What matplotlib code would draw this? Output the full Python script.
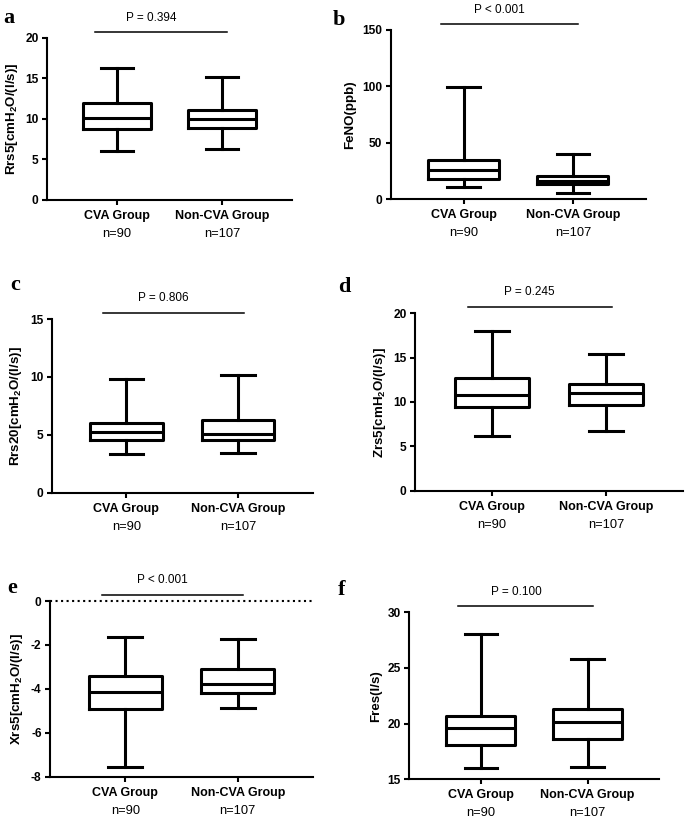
import matplotlib
matplotlib.use("Agg")
import matplotlib.pyplot as plt

# -----------------------------
# Données
# -----------------------------
groups = ["CVA Group", "Non-CVA Group"]
n_labels = ["n=90", "n=107"]

# [min, q1, median, q3, max] pour CVA puis Non-CVA
rrs5 = [[6.0, 8.8, 10.1, 11.9, 16.3], [6.3, 8.9, 9.95, 11.1, 15.1]]
feno = [[10.4, 18.0, 25.5, 35.0, 99.0], [5.3, 13.0, 16.3, 20.4, 40.2]]
rrs20 = [[3.37, 4.52, 5.21, 6.05, 9.79], [3.43, 4.52, 5.10, 6.25, 10.13]]
zrs5 = [[6.2, 9.47, 10.83, 12.67, 17.97], [6.77, 9.62, 11.02, 12.0, 15.38]]
xrs5 = [[-7.54, -4.93, -4.16, -3.41, -1.65], [-4.89, -4.20, -3.78, -3.10, -1.71]]
fres = [[15.99, 18.08, 19.58, 20.72, 28.02], [16.11, 18.65, 20.15, 21.32, 25.81]]

panel_letters = ["a", "b", "c", "d", "e", "f"]
ylabels = [
    r"Rrs5[cmH$_\mathbf{2}$O/(l/s)]",
    "FeNO(ppb)",
    r"Rrs20[cmH$_\mathbf{2}$O/(l/s)]",
    r"Zrs5[cmH$_\mathbf{2}$O/(l/s)]",
    r"Xrs5[cmH$_\mathbf{2}$O/(l/s)]",
    "Fres(l/s)",
]
p_texts = ["P = 0.394", "P < 0.001", "P = 0.806", "P = 0.245", "P < 0.001", "P = 0.100"]
ylims = [(0, 20), (0, 150), (0, 15), (0, 20), (-8, 0), (15, 30)]
yticks = [
    [0, 5, 10, 15, 20],
    [0, 50, 100, 150],
    [0, 5, 10, 15],
    [0, 5, 10, 15, 20],
    [-8, -6, -4, -2, 0],
    [15, 20, 25, 30],
]
all_data = [rrs5, feno, rrs20, zrs5, xrs5, fres]

# -----------------------------
# Mise en page (pixels)
# -----------------------------
W, H = 685, 825
axes_px = [  # gauche, droite, haut, bas
    (47, 292, 37.7, 200),
    (390.7, 646, 30, 199),
    (51.7, 312.7, 319, 492.7),
    (415, 683, 313.3, 490.7),
    (50, 313, 601, 776.7),
    (409.3, 659, 612.3, 779.3),
]
letter_px = [(3, 23), (333, 25), (10, 290), (338, 292), (7, 593), (338, 595)]

plt.rcParams["font.family"] = ["Liberation Sans", "DejaVu Sans"]
plt.rcParams["mathtext.fontset"] = "custom"
plt.rcParams["mathtext.bf"] = "Liberation Sans:bold"
plt.rcParams["mathtext.rm"] = "Liberation Sans:bold"
plt.rcParams["axes.unicode_minus"] = False

fig = plt.figure(figsize=(W / 100, H / 100), dpi=100)

BOX_LW = 2.2
positions = [1, 2]

for i, data in enumerate(all_data):
    l, r, t, b = axes_px[i]
    ax = fig.add_axes([l / W, 1 - b / H, (r - l) / W, (b - t) / H])

    stats = []
    for d in data:
        stats.append({
            "whislo": d[0], "q1": d[1], "med": d[2], "q3": d[3], "whishi": d[4],
            "fliers": [],
        })
    ax.bxp(
        stats, positions=positions, widths=0.65, showfliers=False,
        boxprops=dict(color="black", linewidth=BOX_LW),
        medianprops=dict(color="black", linewidth=BOX_LW),
        whiskerprops=dict(color="black", linewidth=BOX_LW),
        capprops=dict(color="black", linewidth=BOX_LW),
        capwidths=0.3,
    )

    ax.set_xlim(0.33, 2.67)
    ax.set_ylim(*ylims[i])
    ax.set_yticks(yticks[i])
    ax.set_xticks(positions)
    ax.set_xticklabels([])

    for s in ["top", "right"]:
        ax.spines[s].set_visible(False)
    for s in ["left", "bottom"]:
        ax.spines[s].set_linewidth(1.5)
    ax.tick_params(axis="both", length=3.6, width=1.5, labelsize=8.6, pad=2.5)
    for lab in ax.get_yticklabels():
        lab.set_fontweight("bold")

    ax.set_ylabel(ylabels[i], fontsize=9.6, fontweight="bold", labelpad=4)

    # étiquettes des groupes
    for pos, g, n in zip(positions, groups, n_labels):
        ax.annotate(g, xy=(pos, 0), xycoords=("data", "axes fraction"),
                    xytext=(0, -11.5), textcoords="offset points",
                    ha="center", va="center", fontsize=9, fontweight="bold")
        ax.annotate(n, xy=(pos, 0), xycoords=("data", "axes fraction"),
                    xytext=(0, -24.5), textcoords="offset points",
                    ha="center", va="center", fontsize=9.3)

    # barre de significativité
    trans = ax.get_xaxis_transform()
    ax.plot([0.79, 2.05], [1.035, 1.035], color="black", lw=1.1,
            transform=trans, clip_on=False)
    ax.text(1.33, 1.12, p_texts[i], transform=trans, ha="center", va="center",
            fontsize=8.5)

    if i == 4:
        ax.axhline(0, color="black", lw=1.5, ls=":", clip_on=False)

    lx, ly = letter_px[i]
    fig.text(lx / W, 1 - ly / H, panel_letters[i], fontsize=16, fontweight="bold",
             family=["Liberation Serif", "DejaVu Serif"], ha="left", va="baseline")

fig.savefig("out.png", dpi=100)
